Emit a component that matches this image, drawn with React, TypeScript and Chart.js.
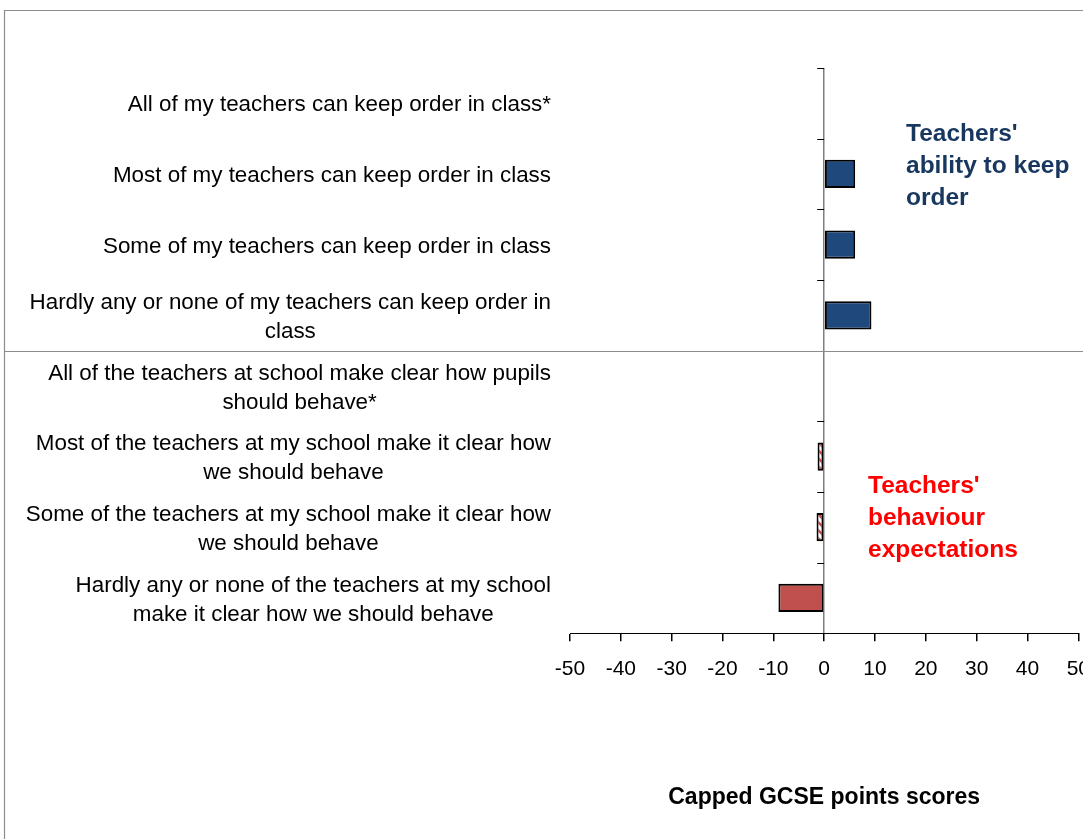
import React, { useEffect, useRef } from "react";
import { Chart, registerables } from "chart.js";

Chart.register(...registerables);

const categories: string[][] = [
  ["All of my teachers can keep order in class*"],
  ["Most of my teachers can keep order in class"],
  ["Some of my teachers can keep order in class"],
  ["Hardly any or none of my teachers can keep order in", "class"],
  ["All of the teachers at school make clear how pupils", "should behave*"],
  ["Most of the teachers at my school make it clear how", "we should behave"],
  ["Some of the teachers at my school make it clear how", "we should behave"],
  ["Hardly any or none of the teachers at my school", "make it clear how we should behave"],
];

const values: (number | null)[] = [null, 6.1, 6.1, 9.3, null, -1.3, -1.5, -9.0];

const fillKinds: string[] = ["blue", "blue", "blue", "blue", "red", "hatch", "hatch", "red"];

const xMin = -50;
const xMax = 50;
const xStep = 10;

const axisTitle = "Capped GCSE points scores";
const orderNote: string[] = ["Teachers'", "ability to keep", "order"];
const behaviourNote: string[] = ["Teachers'", "behaviour", "expectations"];

const BLUE = "#1F497D";
const RED = "#C0504D";
const FONT = "'Liberation Sans', Arial, sans-serif";

function makeHatch(): CanvasPattern | string {
  const c = document.createElement("canvas");
  c.width = 8;
  c.height = 8;
  const g = c.getContext("2d");
  if (!g) return "#fff";
  g.fillStyle = "#ffffff";
  g.fillRect(0, 0, 8, 8);
  g.strokeStyle = RED;
  g.lineWidth = 2.5;
  g.beginPath();
  g.moveTo(0, 0);
  g.lineTo(8, 8);
  g.moveTo(-4, 4);
  g.lineTo(4, 12);
  g.moveTo(4, -4);
  g.lineTo(12, 4);
  g.stroke();
  return g.createPattern(c, "repeat") || "#fff";
}

export default function App() {
  const ref = useRef<HTMLCanvasElement | null>(null);

  useEffect(() => {
    if (!ref.current) return;
    const hatch = makeHatch();
    const colors = fillKinds.map((k) => (k === "blue" ? BLUE : k === "red" ? RED : hatch));

    const decor = {
      id: "decor",
      afterDraw(chart: any) {
        const ctx = chart.ctx as CanvasRenderingContext2D;
        const y = chart.scales.y;
        const x = chart.scales.x;
        const x0 = x.getPixelForValue(0);
        ctx.save();
        // category labels
        ctx.font = `22.4px ${FONT}`;
        ctx.fillStyle = "#000";
        ctx.textAlign = "center";
        ctx.textBaseline = "middle";
        const lh = 29;
        const R = 551;
        categories.forEach((lines, i) => {
          const cy = y.getPixelForValue(i) + 2;
          const maxW = Math.max(...lines.map((l) => ctx.measureText(l).width));
          const cx = R - maxW / 2;
          lines.forEach((l, j) => {
            ctx.fillText(l, cx, cy - ((lines.length - 1) * lh) / 2 + j * lh);
          });
        });
        // y-axis tick marks at category boundaries
        ctx.strokeStyle = "#000";
        ctx.lineWidth = 1;
        ctx.beginPath();
        for (let i = 0; i < categories.length; i++) {
          const by = Math.round(y.getPixelForValue(i - 0.5)) + 0.5;
          ctx.moveTo(x0 - 7, by);
          ctx.lineTo(x0, by);
        }
        ctx.stroke();
        // frame and divider
        ctx.strokeStyle = "#8c8c8c";
        ctx.lineWidth = 1.2;
        ctx.beginPath();
        ctx.moveTo(4.5, 839);
        ctx.lineTo(4.5, 10.5);
        ctx.lineTo(1105, 10.5);
        const dy = Math.round(y.getPixelForValue(3.5)) + 0.5;
        ctx.moveTo(4.5, dy);
        ctx.lineTo(1105, dy);
        ctx.stroke();
        // annotations
        ctx.textAlign = "left";
        ctx.font = `bold 24.5px ${FONT}`;
        ctx.fillStyle = "#17375E";
        orderNote.forEach((t, j) => ctx.fillText(t, 906, 134 + j * 32));
        ctx.fillStyle = "#FF0000";
        behaviourNote.forEach((t, j) => ctx.fillText(t, 868, 486 + j * 32));
        ctx.restore();
      },
    };

    const chart = new Chart(ref.current, {
      type: "bar",
      data: {
        labels: categories.map((c) => c.join(" ")),
        datasets: [
          {
            data: values as any,
            backgroundColor: colors as any,
            borderColor: "#000",
            borderWidth: 2,
            borderSkipped: false,
            categoryPercentage: 1,
            barPercentage: 0.4,
          },
        ],
      },
      options: {
        indexAxis: "y",
        animation: false,
        responsive: false,
        maintainAspectRatio: false,
        layout: { padding: { left: 570, right: 17, top: 68, bottom: 0 } },
        plugins: { legend: { display: false }, tooltip: { enabled: false } },
        scales: {
          y: { display: false, type: "category" },
          x: {
            type: "linear",
            min: xMin,
            max: xMax,
            ticks: {
              stepSize: xStep,
              color: "#000",
              font: { size: 21, family: FONT },
              padding: 15,
              maxRotation: 0,
            },
            grid: {
              color: (c: any) => (c.tick && c.tick.value === 0 ? "#7f7f7f" : "rgba(0,0,0,0)"),
              lineWidth: 1.5,
              tickColor: "#000",
              tickLength: 8,
            },
            border: { display: true, color: "#000", width: 1 },
            title: {
              display: true,
              text: axisTitle,
              color: "#000",
              font: { size: 23, weight: "bold", family: FONT },
              padding: { top: 87, bottom: 28 },
            },
          },
        },
      },
      plugins: [decor],
    });
    return () => chart.destroy();
  }, []);

  return (
    <div
      style={{
        position: "fixed",
        left: 0,
        top: 0,
        width: 1083,
        height: 839,
        overflow: "hidden",
        background: "#fff",
      }}
    >
      <canvas ref={ref} width={1105} height={839} style={{ display: "block" }} />
    </div>
  );
}
